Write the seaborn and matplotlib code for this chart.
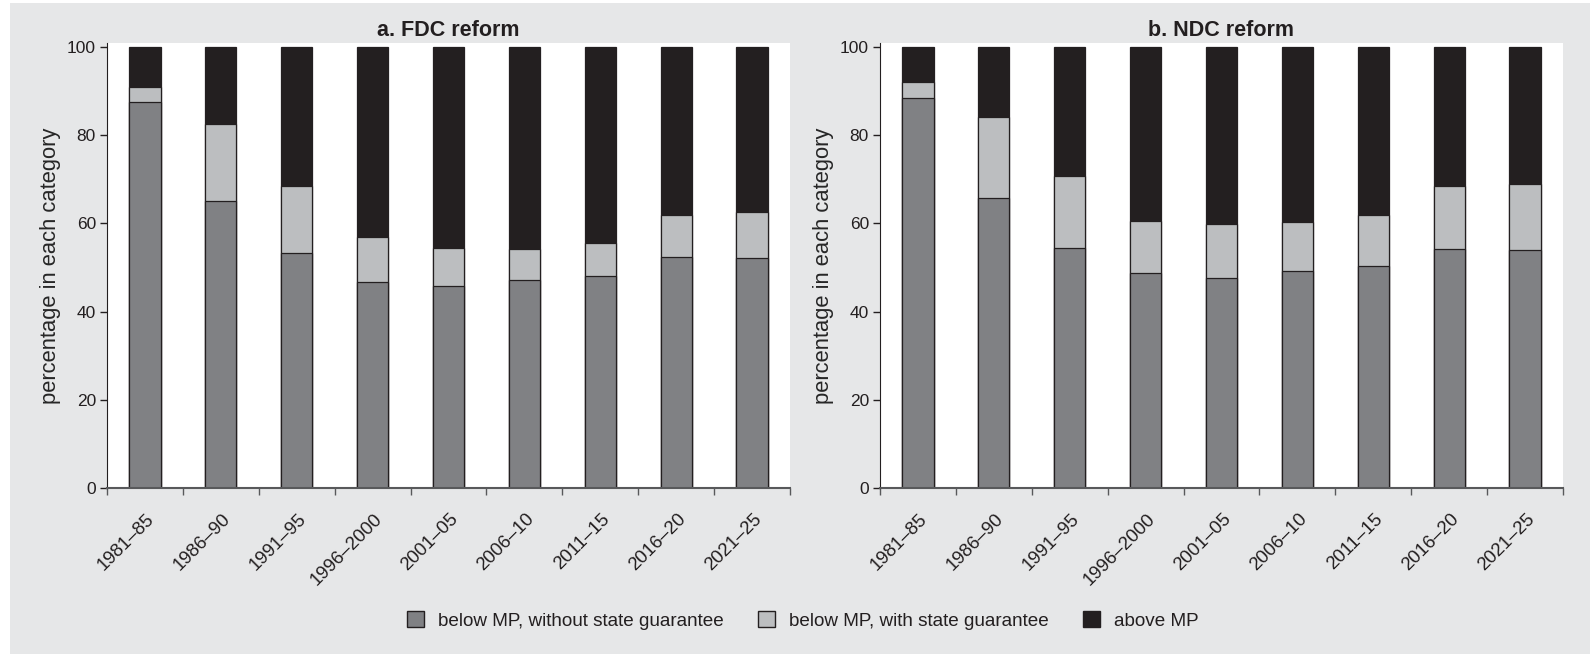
import matplotlib
matplotlib.use("Agg")
import matplotlib.pyplot as plt
from matplotlib.patches import Patch, Rectangle
from matplotlib.transforms import ScaledTranslation
import seaborn as sns

# periods on the x axis
periods = ["1981\u201385", "1986\u201390", "1991\u201395", "1996\u20132000", "2001\u201305",
           "2006\u201310", "2011\u201315", "2016\u201320", "2021\u201325"]

# a. FDC reform (percent in each category)
fdc_below_no_guarantee = [87.4, 65.0, 53.3, 46.7, 45.8, 47.1, 48.1, 52.4, 52.2]
fdc_below_guarantee = [3.6, 17.4, 15.1, 10.2, 8.5, 7.1, 7.5, 9.4, 10.4]
fdc_above = [9.0, 17.6, 31.6, 43.1, 45.7, 45.8, 44.4, 38.2, 37.4]

# b. NDC reform
ndc_below_no_guarantee = [88.4, 65.8, 54.4, 48.8, 47.7, 49.2, 50.3, 54.2, 53.9]
ndc_below_guarantee = [3.7, 18.3, 16.3, 11.7, 12.2, 11.1, 11.6, 14.3, 15.0]
ndc_above = [7.9, 15.9, 29.3, 39.5, 40.1, 39.7, 38.1, 31.5, 31.1]

titles = ["a. FDC reform", "b. NDC reform"]
legend_labels = ["below MP, without state guarantee", "below MP, with state guarantee", "above MP"]
colors = ["#808184", "#bcbec0", "#231f20"]
edge = "#231f20"
bg = "#e6e7e8"

sns.set_style("ticks")
plt.rcParams["font.family"] = ["Liberation Sans", "DejaVu Sans"]
plt.rcParams["text.color"] = "#231f20"
plt.rcParams["xtick.color"] = "#231f20"
plt.rcParams["ytick.color"] = "#231f20"

fig = plt.figure(figsize=(15.9, 6.54), dpi=100)
fig.patch.set_facecolor("white")
fig.patches.append(Rectangle((10 / 1590, 0), 1, 1 - 3 / 654, transform=fig.transFigure,
                             facecolor=bg, edgecolor="none", zorder=-10))

panels = [
    (fdc_below_no_guarantee, fdc_below_guarantee, fdc_above),
    (ndc_below_no_guarantee, ndc_below_guarantee, ndc_above),
]
lefts = [107 / 1590, 880 / 1590]

for i, (dark, light, top) in enumerate(panels):
    ax = fig.add_axes([lefts[i], 166 / 654, 683 / 1590, 444.7 / 654])
    ax.set_facecolor("white")
    # stacked bars drawn as cumulative totals, back to front
    total = [a + b + c for a, b, c in zip(dark, light, top)]
    mid = [a + b for a, b in zip(dark, light)]
    for vals, col in zip([total, mid, dark], [colors[2], colors[1], colors[0]]):
        sns.barplot(x=periods, y=vals, color=col, saturation=1, width=0.41,
                    edgecolor=edge, linewidth=0.9, ax=ax)
    ax.set_xlim(-0.5, 8.5)
    ax.set_ylim(0, 100.8)
    ax.set_yticks([0, 20, 40, 60, 80, 100])
    ax.set_ylabel("percentage in each category", fontsize=15.8, labelpad=4)
    ax.set_xlabel("")
    ax.set_title(titles[i], fontsize=15.5, fontweight="bold", pad=5)
    ax.set_xticks(range(len(periods)))
    ax.set_xticklabels(periods, rotation=45, ha="right", fontsize=13.4)
    ax.set_xticks([x - 0.5 for x in range(len(periods) + 1)], minor=True)
    ax.tick_params(axis="x", which="major", length=0, pad=16)
    ax.tick_params(axis="x", which="minor", length=5, width=1, color="#58595b")
    ax.tick_params(axis="y", length=5, width=1, labelsize=12.5, pad=3)
    for lab in ax.get_xticklabels():
        lab.set_transform(lab.get_transform() + ScaledTranslation(13 / 100, 0, fig.dpi_scale_trans))
    sns.despine(ax=ax)
    ax.spines["left"].set_color("#231f20")
    ax.spines["bottom"].set_color("#58595b")
    ax.spines["bottom"].set_linewidth(1.5)

handles = [Patch(facecolor=c, edgecolor=edge, linewidth=1) for c in colors]
fig.legend(handles, legend_labels, loc="center", bbox_to_anchor=(803 / 1590, 1 - 620.5 / 654),
           ncol=3, frameon=False, fontsize=13.6, handlelength=0.9, handleheight=0.9,
           handletextpad=0.75, columnspacing=1.8)

fig.savefig("out.png", dpi=100, facecolor=fig.get_facecolor())
